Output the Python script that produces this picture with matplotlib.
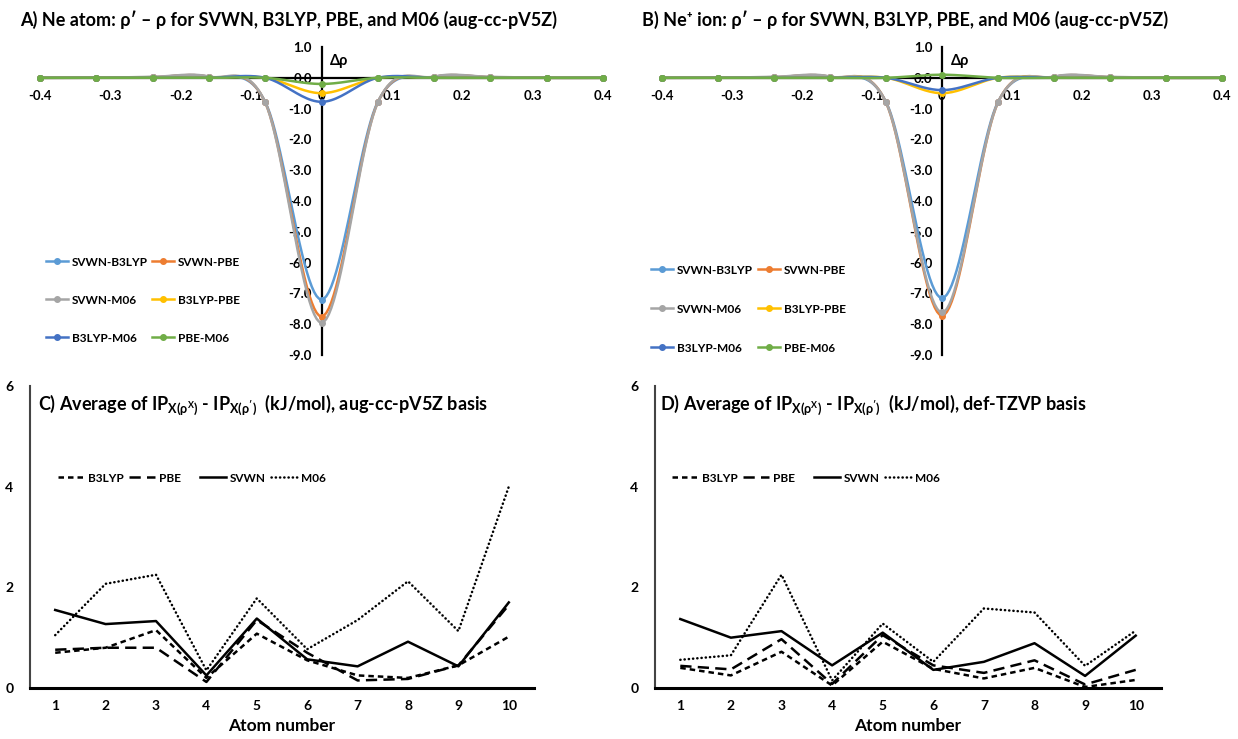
import numpy as np
import matplotlib
matplotlib.use('Agg')
import matplotlib.pyplot as plt
from matplotlib.lines import Line2D

plt.rcParams['font.family'] = ['Lato', 'DejaVu Sans']
plt.rcParams['font.weight'] = 'bold'
plt.rcParams['axes.unicode_minus'] = False
plt.rcParams['mathtext.fontset'] = 'custom'
plt.rcParams['mathtext.rm'] = 'Lato:bold'
plt.rcParams['mathtext.bf'] = 'Lato:bold'
plt.rcParams['mathtext.it'] = 'Lato:bold'

# ---- data: top panels (density differences along r) ----
r = [-0.4, -0.32, -0.24, -0.16, -0.08, 0.0, 0.08, 0.16, 0.24, 0.32, 0.4]
pair_names = ['SVWN-B3LYP', 'SVWN-PBE', 'SVWN-M06', 'B3LYP-PBE', 'B3LYP-M06', 'PBE-M06']
pair_colors = ['#5B9BD5', '#ED7D31', '#A5A5A5', '#FFC000', '#4472C4', '#70AD47']

ne_svwn_b3lyp = [0, 0, 0.02, 0.03, -0.78, -7.20, -0.78, 0.03, 0.02, 0, 0]
ne_svwn_pbe = [0, 0, 0.02, 0.03, -0.80, -7.75, -0.80, 0.03, 0.02, 0, 0]
ne_svwn_m06 = [0, 0, 0.03, 0.04, -0.80, -7.95, -0.80, 0.04, 0.03, 0, 0]
ne_b3lyp_pbe = [0, 0, 0, 0, 0, -0.50, 0, 0, 0, 0, 0]
ne_b3lyp_m06 = [0, 0, 0, 0, 0, -0.78, 0, 0, 0, 0, 0]
ne_pbe_m06 = [0, 0, 0, 0, 0, -0.20, 0, 0, 0, 0, 0]

nep_svwn_b3lyp = [0, 0, 0.02, 0.03, -0.78, -7.15, -0.78, 0.03, 0.02, 0, 0]
nep_svwn_pbe = [0, 0, 0.02, 0.03, -0.80, -7.72, -0.80, 0.03, 0.02, 0, 0]
nep_svwn_m06 = [0, 0, 0.03, 0.04, -0.80, -7.62, -0.80, 0.04, 0.03, 0, 0]
nep_b3lyp_pbe = [0, 0, 0, 0, 0, -0.50, 0, 0, 0, 0, 0]
nep_b3lyp_m06 = [0, 0, 0, 0, 0, -0.40, 0, 0, 0, 0, 0]
nep_pbe_m06 = [0, 0, 0, 0, 0, 0.10, 0, 0, 0, 0, 0]

# ---- data: bottom panels (IP differences, kJ/mol) ----
atoms = [1, 2, 3, 4, 5, 6, 7, 8, 9, 10]
method_names = ['B3LYP', 'PBE', 'SVWN', 'M06']
c_b3lyp = [0.70, 0.80, 1.15, 0.20, 1.08, 0.55, 0.25, 0.20, 0.45, 1.02]
c_pbe = [0.76, 0.80, 0.80, 0.12, 1.35, 0.70, 0.15, 0.18, 0.45, 1.65]
c_svwn = [1.55, 1.27, 1.33, 0.25, 1.38, 0.57, 0.43, 0.92, 0.43, 1.70]
c_m06 = [1.05, 2.07, 2.25, 0.35, 1.78, 0.77, 1.35, 2.12, 1.13, 4.00]

d_b3lyp = [0.40, 0.25, 0.72, 0.05, 0.92, 0.38, 0.19, 0.40, 0.02, 0.16]
d_pbe = [0.44, 0.37, 0.97, 0.08, 1.05, 0.45, 0.30, 0.55, 0.07, 0.36]
d_svwn = [1.37, 1.00, 1.13, 0.45, 1.10, 0.36, 0.52, 0.89, 0.24, 1.04]
d_m06 = [0.56, 0.65, 2.25, 0.15, 1.28, 0.52, 1.58, 1.50, 0.44, 1.14]

W, H = 1238, 739


def box(x0, y0, x1, y1):
    # pixel box (top-left origin) -> figure fractions
    return [x0 / W, 1 - y1 / H, (x1 - x0) / W, (y1 - y0) / H]


def excel_smooth(x, y, n=24):
    # Excel-style smoothed line (bezier through the points)
    p = np.column_stack([x, y]).astype(float)
    p = np.vstack([p[0], p, p[-1]])
    out = []
    for i in range(1, len(p) - 2):
        p0, p3 = p[i], p[i + 1]
        c1 = p0 + (p[i + 1] - p[i - 1]) / 6
        c2 = p3 - (p[i + 2] - p[i]) / 6
        t = np.linspace(0, 1, n)[:, None]
        seg = ((1 - t) ** 3) * p0 + 3 * ((1 - t) ** 2) * t * c1 + 3 * (1 - t) * t ** 2 * c2 + t ** 3 * p3
        out.append(seg)
    s = np.vstack(out)
    return s[:, 0], s[:, 1]


fig = plt.figure(figsize=(W / 100, H / 100), dpi=100)


def entry(handle, label, x, y, size, hl):
    # one legend slot (Excel lays entries out in equal slots)
    fig.legend([handle], [label], loc='center left',
               bbox_to_anchor=(x / W, 1 - y / H), frameon=False,
               handlelength=hl, handletextpad=0.3, borderpad=0, borderaxespad=0,
               prop={'weight': 'bold', 'size': size})


def top_panel(rect, series, title, tx, leg_x, leg_y):
    ax = fig.add_axes(rect)
    for ys, col in zip(series, pair_colors):
        sx, sy = excel_smooth(r, ys)
        ax.plot(sx, sy, color=col, lw=1.8, clip_on=False, zorder=3)
        ax.plot(r, ys, 'o', color=col, ms=4, clip_on=False, zorder=3)
    ax.set_xlim(-0.4, 0.4)
    ax.set_ylim(-9, 1)
    ax.spines['left'].set_position(('data', 0))
    ax.spines['bottom'].set_position(('data', 0))
    ax.spines['right'].set_visible(False)
    ax.spines['top'].set_visible(False)
    for s in ('left', 'bottom'):
        ax.spines[s].set_linewidth(1.6)
        ax.spines[s].set_zorder(2)
    ax.set_xticks([-0.4, -0.3, -0.2, -0.1, 0, 0.1, 0.2, 0.3, 0.4])
    ax.set_xticklabels(['-0.4', '-0.3', '-0.2', '-0.1', '0', '0.1', '0.2', '0.3', '0.4'])
    ax.set_yticks(np.arange(-9, 1.1, 1))
    ax.set_yticklabels(['%.1f' % v for v in np.arange(-9, 1.1, 1)])
    ax.tick_params(length=0, labelsize=9.5, pad=9)
    ax.tick_params(axis='y', pad=7)
    ax.text(0.012, 0.55, '\u0394\u03c1', fontsize=10.5, fontweight='bold', va='center')
    fig.text(tx / W, 1 - 20 / H, title, fontsize=13, fontweight='bold', va='center')
    for i, (name, col) in enumerate(zip(pair_names, pair_colors)):
        h = Line2D([], [], color=col, lw=1.8, marker='o', ms=4)
        entry(h, name, leg_x[i % 2], leg_y[i // 2], 8.5, 1.9)
    return ax


top_panel(box(40, 47, 603, 355),
          [ne_svwn_b3lyp, ne_svwn_pbe, ne_svwn_m06, ne_b3lyp_pbe, ne_b3lyp_m06, ne_pbe_m06],
          "A) Ne atom: \u03c1\u2032 \u2013 \u03c1 for SVWN, B3LYP, PBE, and M06 (aug-cc-pV5Z)",
          20, (46, 152), (262, 300, 338))
top_panel(box(662, 47, 1222, 355),
          [nep_svwn_b3lyp, nep_svwn_pbe, nep_svwn_m06, nep_b3lyp_pbe, nep_b3lyp_m06, nep_pbe_m06],
          "B) Ne\u207a ion: \u03c1\u2032 \u2013 \u03c1 for SVWN, B3LYP, PBE, and M06 (aug-cc-pV5Z)",
          642, (651, 758), (270, 309, 348))

styles = {
    'B3LYP': dict(ls=(0, (2.2, 1.6)), lw=1.8),
    'PBE': dict(ls=(0, (4.5, 2.5)), lw=1.8),
    'SVWN': dict(ls='-', lw=1.8),
    'M06': dict(ls=(0, (0.1, 1.6)), lw=1.8, dash_capstyle='round'),
}


def bottom_panel(rect, series, prefix, basis, tx, leg_x0, leg_y):
    ax = fig.add_axes(rect)
    for name, ys in zip(method_names, series):
        ax.plot(atoms, ys, color='black', **styles[name])
    ax.set_xlim(0.5, 10.5)
    ax.set_ylim(0, 6)
    ax.set_xticks(atoms)
    ax.set_yticks([0, 2, 4, 6])
    ax.spines['right'].set_visible(False)
    ax.spines['top'].set_visible(False)
    ax.spines['bottom'].set_linewidth(2.2)
    ax.spines['left'].set_linewidth(1.5)
    ax.spines['left'].set_color('#444444')
    ax.tick_params(length=0, labelsize=10)
    ax.tick_params(axis='x', pad=9)
    ax.tick_params(axis='y', pad=12)
    ax.set_xlabel('Atom number', fontsize=12.5, fontweight='bold', labelpad=4)
    title = (r"$\mathbf{IP}_{\mathbf{X(\rho}^{\mathbf{X}}\mathbf{)}}$ - "
             r"$\mathbf{IP}_{\mathbf{X(\rho')}}$")
    fig.text(tx / W, 1 - 405 / H,
             prefix + ' Average of ' + title + '  (kJ/mol), ' + basis + ' basis',
             fontsize=13, fontweight='bold', va='center')
    for i, name in enumerate(method_names):
        h = Line2D([], [], color='black', **styles[name])
        entry(h, name, leg_x0 + 71 * i, leg_y, 8.5, 2.2)
    return ax


bottom_panel(box(30, 386, 534, 688), [c_b3lyp, c_pbe, c_svwn, c_m06],
             'C)', 'aug-cc-pV5Z', 38, 58, 478)
bottom_panel(box(655, 386, 1161, 688), [d_b3lyp, d_pbe, d_svwn, d_m06],
             'D)', 'def-TZVP', 660, 672, 478)

fig.savefig('out.png', dpi=100)
